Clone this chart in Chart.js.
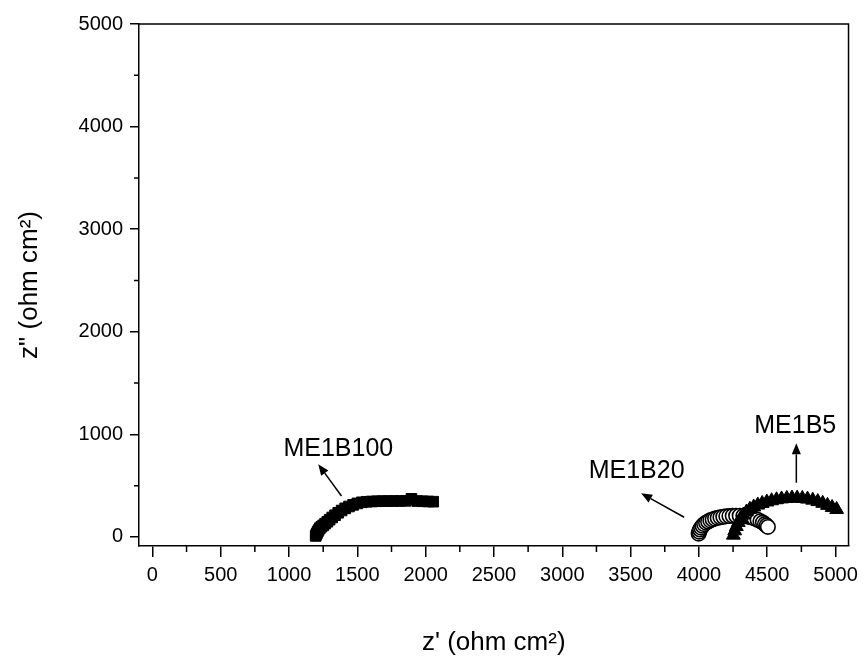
<!DOCTYPE html>
<html>
<head>
<meta charset="utf-8">
<title>Impedance spectra ME1B</title>
<script src="https://cdn.jsdelivr.net/npm/chart.js"></script>
<style>
  html, body { margin: 0; padding: 0; background: #fff; }
  #wrap { width: 864px; height: 657px; }
</style>
</head>
<body>
<div id="wrap"><canvas id="nyquistChart" width="864" height="657"></canvas></div>
<script>
// ME1B100 - filled squares
const b100X = [1195, 1199, 1204, 1210, 1217, 1226, 1237, 1250, 1264, 1280, 1297, 1316, 1337, 1360, 1385, 1411, 1439, 1469, 1500, 1533, 1568, 1605, 1644, 1684, 1725, 1767, 1810, 1853, 1896, 1938, 1978, 2018, 2055];
const b100Y = [10, 22, 36, 52, 68, 86, 100, 113, 130, 148, 168, 190, 212, 236, 258, 279, 297, 313, 327, 338, 343, 346, 348, 349, 350, 350, 351, 352, 372, 350, 348, 346, 344];

// ME1B20 - open circles
const b20X = [3998, 4002, 4008, 4016, 4026, 4038, 4052, 4067, 4083, 4100, 4118, 4137, 4157, 4178, 4200, 4223, 4247, 4272, 4298, 4325, 4352, 4379, 4405, 4429, 4450, 4468, 4483, 4495, 4505];
const b20Y = [32, 52, 72, 91, 109, 125, 139, 151, 162, 171, 179, 186, 192, 197, 201, 204, 206, 207, 207, 205, 200, 192, 181, 168, 154, 140, 126, 112, 98];

// ME1B5 - filled triangles
const b5X = [4252, 4262, 4274, 4288, 4305, 4325, 4348, 4373, 4401, 4431, 4463, 4497, 4532, 4568, 4605, 4643, 4681, 4719, 4757, 4795, 4833, 4870, 4906, 4941, 4975, 5008];
const b5Y = [18, 60, 102, 142, 180, 214, 244, 270, 292, 311, 327, 341, 353, 363, 371, 376, 379, 379, 376, 369, 359, 345, 328, 308, 288, 268];

// axis ticks
const xTickValues = [0, 500, 1000, 1500, 2000, 2500, 3000, 3500, 4000, 4500, 5000];
const xTickLabels = ['0', '500', '1000', '1500', '2000', '2500', '3000', '3500', '4000', '4500', '5000'];
const yTickValues = [0, 1000, 2000, 3000, 4000, 5000];
const yTickLabels = ['0', '1000', '2000', '3000', '4000', '5000'];

// labels with arrows (data units)
const annoText = ['ME1B100', 'ME1B20', 'ME1B5'];
const annoX = [1361, 3544, 4705];
const annoY = [858, 643, 1082];
const arrowFromX = [1384, 3892, 4713];
const arrowFromY = [400, 192, 529];
const arrowToX = [1214, 3577, 4713];
const arrowToY = [709, 426, 913];

const xTitle = "z' (ohm cm\u00B2)";
const yTitle = 'z" (ohm cm\u00B2)';

function toPoints(xs, ys) {
  return xs.map((x, i) => ({ x: x, y: ys[i] }));
}

// top/right frame and minor ticks
const framePlugin = {
  id: 'frame',
  afterDraw(chart) {
    const { ctx, chartArea: a, scales } = chart;
    const xs = scales.x, ys = scales.y;
    ctx.save();
    ctx.strokeStyle = '#000';
    ctx.lineWidth = 1.5;
    ctx.beginPath();
    ctx.moveTo(a.left, a.top);
    ctx.lineTo(a.right, a.top);
    ctx.lineTo(a.right, a.bottom);
    // minor ticks, half way between the labelled ones
    xs.ticks.forEach(t => {
      const v = t.value + 250;
      if (v < xs.max) {
        const px = xs.getPixelForValue(v);
        ctx.moveTo(px, a.bottom);
        ctx.lineTo(px, a.bottom + 6);
      }
    });
    ys.ticks.forEach(t => {
      const v = t.value + 500;
      if (v < ys.max) {
        const py = ys.getPixelForValue(v);
        ctx.moveTo(a.left, py);
        ctx.lineTo(a.left - 5, py);
      }
    });
    ctx.stroke();
    ctx.restore();
  }
};

// sample names and arrows
const labelPlugin = {
  id: 'sampleLabels',
  afterDatasetsDraw(chart) {
    const { ctx, scales } = chart;
    const xs = scales.x, ys = scales.y;
    ctx.save();
    ctx.fillStyle = '#000';
    ctx.strokeStyle = '#000';
    ctx.lineWidth = 1.5;
    ctx.font = "25px 'Liberation Sans', Arial, sans-serif";
    ctx.textAlign = 'center';
    ctx.textBaseline = 'middle';
    annoText.forEach((txt, i) => {
      ctx.fillText(txt, xs.getPixelForValue(annoX[i]), ys.getPixelForValue(annoY[i]));

      const x1 = xs.getPixelForValue(arrowFromX[i]), y1 = ys.getPixelForValue(arrowFromY[i]);
      const x2 = xs.getPixelForValue(arrowToX[i]), y2 = ys.getPixelForValue(arrowToY[i]);
      const ang = Math.atan2(y2 - y1, x2 - x1);
      const headLen = 11, headW = 4.5;
      const bx = x2 - headLen * Math.cos(ang), by = y2 - headLen * Math.sin(ang);
      ctx.beginPath();
      ctx.moveTo(x1, y1);
      ctx.lineTo(bx, by);
      ctx.stroke();
      ctx.beginPath();
      ctx.moveTo(x2, y2);
      ctx.lineTo(bx + headW * Math.sin(ang), by - headW * Math.cos(ang));
      ctx.lineTo(bx - headW * Math.sin(ang), by + headW * Math.cos(ang));
      ctx.closePath();
      ctx.fill();
    });
    ctx.restore();
  }
};

function initNyquistChart() {
  Chart.defaults.font.family = "'Liberation Sans', Arial, sans-serif";
  Chart.defaults.color = '#000';

  const ctx = document.getElementById('nyquistChart').getContext('2d');
  new Chart(ctx, {
    type: 'scatter',
    data: {
      datasets: [
        {
          label: 'ME1B5',
          data: toPoints(b5X, b5Y),
          pointStyle: 'triangle',
          pointRadius: 8,
          backgroundColor: '#000',
          borderColor: '#000',
          borderWidth: 1,
          order: 0
        },
        {
          label: 'ME1B20',
          data: toPoints(b20X, b20Y),
          pointStyle: 'circle',
          pointRadius: 7.2,
          backgroundColor: '#fff',
          borderColor: '#000',
          borderWidth: 1.6,
          order: 1
        },
        {
          label: 'ME1B100',
          data: toPoints(b100X, b100Y),
          pointStyle: 'rect',
          pointRadius: 7.5,
          backgroundColor: '#000',
          borderColor: '#000',
          borderWidth: 1,
          order: 2
        }
      ]
    },
    options: {
      responsive: false,
      animation: false,
      layout: { padding: { top: 24, right: 11.5, left: 0, bottom: 0 } },
      plugins: {
        legend: { display: false },
        tooltip: { enabled: false }
      },
      scales: {
        x: {
          type: 'linear',
          min: -98,
          max: 5095,
          afterBuildTicks(scale) { scale.ticks = xTickValues.map(v => ({ value: v })); },
          ticks: {
            autoSkip: false, maxRotation: 0, font: { size: 20 }, padding: 6,
            callback: (value, index) => xTickLabels[index]
          },
          grid: { display: true, drawOnChartArea: false, drawTicks: true, tickLength: 11, color: '#000', lineWidth: 1.5 },
          border: { display: true, color: '#000', width: 1.5 },
          title: { display: true, text: xTitle, font: { size: 26 }, padding: { top: 0, bottom: -1 } },
          afterFit(scale) { scale.height = 111; }
        },
        y: {
          type: 'linear',
          min: -88,
          max: 5000,
          afterBuildTicks(scale) { scale.ticks = yTickValues.map(v => ({ value: v })); },
          ticks: {
            autoSkip: false, font: { size: 20 }, padding: 7,
            callback: (value, index) => yTickLabels[index]
          },
          grid: { display: true, drawOnChartArea: false, drawTicks: true, tickLength: 9, color: '#000', lineWidth: 1.5 },
          border: { display: true, color: '#000', width: 1.5 },
          title: { display: true, text: yTitle, font: { size: 26 }, padding: { top: 14, bottom: 0 } },
          afterFit(scale) { scale.width = 139; }
        }
      }
    },
    plugins: [framePlugin, labelPlugin]
  });
}

document.addEventListener('DOMContentLoaded', initNyquistChart);
</script>
</body>
</html>
